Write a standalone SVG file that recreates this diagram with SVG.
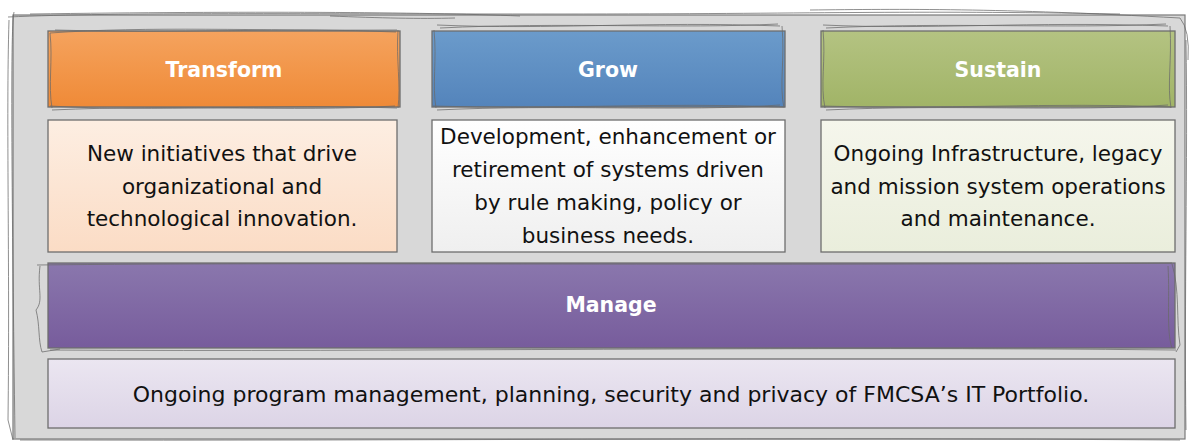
<svg xmlns="http://www.w3.org/2000/svg" width="1193" height="442" viewBox="0 0 1193 442">
<defs>
<linearGradient id="gOr" x1="0" y1="0" x2="0" y2="1"><stop offset="0" stop-color="#f5a35e"/><stop offset="1" stop-color="#ef8a37"/></linearGradient>
<linearGradient id="gBl" x1="0" y1="0" x2="0" y2="1"><stop offset="0" stop-color="#6b9bcb"/><stop offset="1" stop-color="#5484bb"/></linearGradient>
<linearGradient id="gGr" x1="0" y1="0" x2="0" y2="1"><stop offset="0" stop-color="#b4c382"/><stop offset="1" stop-color="#a1b467"/></linearGradient>
<linearGradient id="gPu" x1="0" y1="0" x2="0" y2="1"><stop offset="0" stop-color="#8a77ad"/><stop offset="1" stop-color="#775c9c"/></linearGradient>
<linearGradient id="gOrL" x1="0" y1="0" x2="0" y2="1"><stop offset="0" stop-color="#fdeee2"/><stop offset="1" stop-color="#fbdcc5"/></linearGradient>
<linearGradient id="gBlL" x1="0" y1="0" x2="0" y2="1"><stop offset="0" stop-color="#ffffff"/><stop offset="1" stop-color="#efefef"/></linearGradient>
<linearGradient id="gGrL" x1="0" y1="0" x2="0" y2="1"><stop offset="0" stop-color="#f5f6ec"/><stop offset="1" stop-color="#eaeedc"/></linearGradient>
<linearGradient id="gPuL" x1="0" y1="0" x2="0" y2="1"><stop offset="0" stop-color="#ebe6f1"/><stop offset="1" stop-color="#dcd4e6"/></linearGradient>
</defs>
<style>
.box{stroke:#6e6e6e;stroke-width:1.3}
.sk{fill:none;stroke:#6a6a6a;stroke-width:1;opacity:0.75}
.hd{font-family:"DejaVu Sans",sans-serif;font-weight:bold;font-size:20.5px;fill:#ffffff;text-anchor:middle}
.bd{font-family:"DejaVu Sans",sans-serif;font-size:21.5px;fill:#111111;text-anchor:middle}
.bt{font-family:"DejaVu Sans",sans-serif;font-size:22px;fill:#111111;text-anchor:middle}
</style>
<rect width="1193" height="442" fill="#ffffff"/>
<g id="panel">
<rect x="13" y="15" width="1172" height="424" fill="#d8d8d8" stroke="#7a7a7a" stroke-width="1.2"/>
<path class="sk" d="M8 17 C120 12 300 14 560 14 S900 10 1120 14 M30 14 C250 11 420 12 520 16 M810 10 C900 9 1000 8 1180 18 Q1190 30 1188 60 M9 20 C6 120 10 260 8 420 L13 440 M14 12 C10 30 12 200 15 438 M1186 40 C1188 160 1184 300 1186 430 M20 440 C400 441 800 437 1180 440 M330 16 C380 18 420 19 455 18"/>
</g>
<g id="transform">
<rect class="box" x="48" y="31" width="352" height="76" fill="url(#gOr)"/>
<path class="sk" d="M50 33 C150 26 250 31 397 30 M55 30 C170 34 290 27 396 32 M50 106 C150 112 280 104 397 108 M52 110 C180 104 290 112 395 106 M50 33 C53 60 48 85 52 108 M398 30 C396 60 401 85 398 108"/>
<text class="hd" x="224" y="77">Transform</text>
<rect class="box" x="48" y="120" width="349" height="132" fill="url(#gOrL)"/>
<text class="bd" x="222" y="161">New initiatives that drive</text>
<text class="bd" x="222" y="193.5">organizational and</text>
<text class="bd" x="222" y="226">technological innovation.</text>
</g>
<g id="grow">
<rect class="box" x="432" y="31" width="353" height="76" fill="url(#gBl)"/>
<path class="sk" d="M437 25 C550 30 650 21 780 26 M440 28 C560 22 680 29 778 24 M433 106 C550 110 660 102 783 107 M437 110 C560 104 680 112 780 105 M434 30 C437 60 432 85 436 108 M782 26 C785 60 779 85 784 108"/>
<text class="hd" x="608" y="77">Grow</text>
<rect class="box" x="432" y="120" width="353" height="132" fill="url(#gBlL)"/>
<text class="bd" x="608" y="144">Development, enhancement or</text>
<text class="bd" x="608" y="177">retirement of systems driven</text>
<text class="bd" x="608" y="210">by rule making, policy or</text>
<text class="bd" x="608" y="243">business needs.</text>
</g>
<g id="sustain">
<rect class="box" x="821" y="31" width="354" height="76" fill="url(#gGr)"/>
<path class="sk" d="M823 25 C930 30 1030 21 1168 26 M826 28 C950 22 1060 29 1166 24 M822 106 C940 110 1050 102 1171 107 M826 110 C950 104 1070 112 1168 105 M823 30 C826 60 820 85 825 108 M1170 26 C1172 60 1167 85 1171 108"/>
<text class="hd" x="998" y="77">Sustain</text>
<rect class="box" x="821" y="120" width="354" height="132" fill="url(#gGrL)"/>
<text class="bd" x="998" y="161">Ongoing Infrastructure, legacy</text>
<text class="bd" x="998" y="193.5">and mission system operations</text>
<text class="bd" x="998" y="226">and maintenance.</text>
</g>
<g id="manage">
<rect class="box" x="48" y="263" width="1127" height="85" fill="url(#gPu)"/>
<path class="sk" d="M37 265 C300 262 700 266 1172 263 M40 266 C37 290 44 300 36 310 C40 325 38 340 42 352 L60 349 M50 350 C400 352 800 346 1176 350 M1172 264 C1180 290 1176 320 1180 345 L1176 352 M1168 266 C1170 300 1166 330 1172 348"/>
<text class="hd" x="611" y="312">Manage</text>
<rect class="box" x="48" y="359" width="1127" height="69" fill="url(#gPuL)"/>
<text class="bt" x="611" y="402">Ongoing program management, planning, security and privacy of FMCSA’s IT Portfolio.</text>
</g>
</svg>
